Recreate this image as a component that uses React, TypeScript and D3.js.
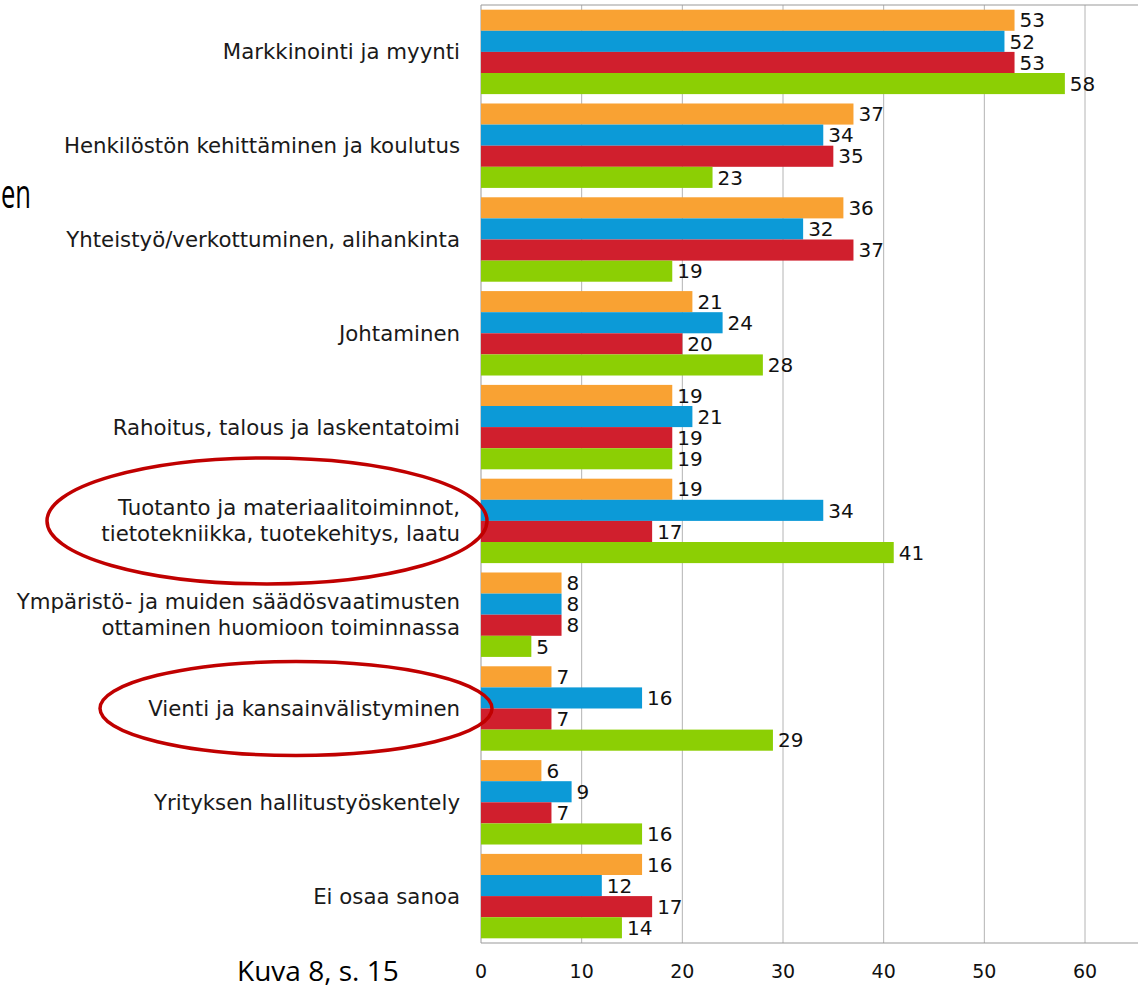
import { useMemo } from "react";
import * as d3 from "d3";

// Kategoriat (ylhäältä alas)
const categories = [
  ["Markkinointi ja myynti"],
  ["Henkilöstön kehittäminen ja koulutus"],
  ["Yhteistyö/verkottuminen, alihankinta"],
  ["Johtaminen"],
  ["Rahoitus, talous ja laskentatoimi"],
  ["Tuotanto ja materiaalitoiminnot,", "tietotekniikka, tuotekehitys, laatu"],
  ["Ympäristö- ja muiden säädösvaatimusten", "ottaminen huomioon toiminnassa"],
  ["Vienti ja kansainvälistyminen"],
  ["Yrityksen hallitustyöskentely"],
  ["Ei osaa sanoa"],
];

// Sarjat (järjestys palkeissa: oranssi, sininen, punainen, vihreä)
const seriesOrange = [53, 37, 36, 21, 19, 19, 8, 7, 6, 16];
const seriesBlue = [52, 34, 32, 24, 21, 34, 8, 16, 9, 12];
const seriesRed = [53, 35, 37, 20, 19, 17, 8, 7, 7, 17];
const seriesGreen = [58, 23, 19, 28, 19, 41, 5, 29, 16, 14];

const xTickValues = [0, 10, 20, 30, 40, 50, 60];
const highlighted = [5, 7]; // ympyröidyt kategoriat

const colors = ["#F9A233", "#0C9AD7", "#D01F2D", "#8CCF04"];
const labelFont = "'DejaVu Sans', Verdana, sans-serif";
const slideFont = "'Open Sans', 'Noto Sans', sans-serif";

export default function App() {
  const width = 1138;
  const height = 988;
  const plot = { left: 481, top: 5, bottom: 943, right: 1138 };

  const series = [seriesOrange, seriesBlue, seriesRed, seriesGreen];

  const x = d3.scaleLinear().domain([0, 60]).range([plot.left, plot.left + 604]);

  const y = useMemo(
    () =>
      d3
        .scaleBand<number>()
        .domain(d3.range(categories.length))
        .range([plot.top, plot.bottom])
        .paddingInner(0.1)
        .paddingOuter(0.05),
    []
  );

  const inner = d3
    .scaleBand<number>()
    .domain(d3.range(series.length))
    .range([0, y.bandwidth()]);

  // Ellipsit korostetuille riveille
  const ellipses = [
    { cat: highlighted[0], cx: 267, rx: 220, ry: 63 },
    { cat: highlighted[1], cx: 296, rx: 196, ry: 47 },
  ];

  return (
    <svg
      width={width}
      height={height}
      style={{ position: "absolute", left: 0, top: 0, background: "#fff" }}
    >
      {/* Ruudukko */}
      {xTickValues.slice(1).map((t) => (
        <line
          key={t}
          x1={x(t)}
          x2={x(t)}
          y1={plot.top}
          y2={plot.bottom}
          stroke="#b4b4b4"
          strokeWidth={1}
        />
      ))}
      <line x1={plot.left} x2={plot.right} y1={plot.top} y2={plot.top} stroke="#999" />
      <line x1={plot.left} x2={plot.right} y1={plot.bottom} y2={plot.bottom} stroke="#999" />
      <line x1={plot.left} x2={plot.left} y1={plot.top} y2={plot.bottom} stroke="#999" />

      {/* Palkit */}
      {categories.map((_, ci) =>
        series.map((s, si) => {
          const by = (y(ci) ?? 0) + (inner(si) ?? 0);
          const bh = inner.bandwidth();
          return (
            <g key={`${ci}-${si}`}>
              <rect
                x={x(0)}
                y={by}
                width={x(s[ci]) - x(0)}
                height={bh}
                fill={colors[si]}
              />
              <text
                x={x(s[ci]) + 5}
                y={by + bh / 2}
                dy="0.36em"
                fontFamily={labelFont}
                fontSize={20}
                fill="#111"
              >
                {s[ci]}
              </text>
            </g>
          );
        })
      )}

      {/* Kategorioiden nimet */}
      {categories.map((lines, ci) => {
        const cy = (y(ci) ?? 0) + y.bandwidth() / 2;
        const lh = 26;
        return (
          <text
            key={ci}
            textAnchor="end"
            fontFamily={labelFont}
            fontSize={21.3}
            fill="#1a1a1a"
          >
            {lines.map((l, li) => (
              <tspan
                key={li}
                x={460}
                y={cy + (li - (lines.length - 1) / 2) * lh}
                dy="0.35em"
              >
                {l}
              </tspan>
            ))}
          </text>
        );
      })}

      {/* X-akselin arvot */}
      {xTickValues.map((t) => (
        <text
          key={t}
          x={x(t)}
          y={978}
          textAnchor="middle"
          fontFamily={labelFont}
          fontSize={19}
          fill="#111"
        >
          {t}
        </text>
      ))}

      {/* Korostusellipsit */}
      {ellipses.map((e, i) => (
        <ellipse
          key={i}
          cx={e.cx}
          cy={(y(e.cat) ?? 0) + y.bandwidth() / 2}
          rx={e.rx}
          ry={e.ry}
          fill="none"
          stroke="#C00000"
          strokeWidth={3.5}
        />
      ))}

      {/* Dian tekstit */}
      <text
        x={1}
        y={208}
        fontFamily={slideFont}
        fontSize={40}
        textLength={30}
        lengthAdjust="spacingAndGlyphs"
        fill="#000"
      >
        en
      </text>
      <text x={237} y={981} fontFamily={slideFont} fontSize={28} fill="#000">
        Kuva 8, s. 15
      </text>
    </svg>
  );
}
